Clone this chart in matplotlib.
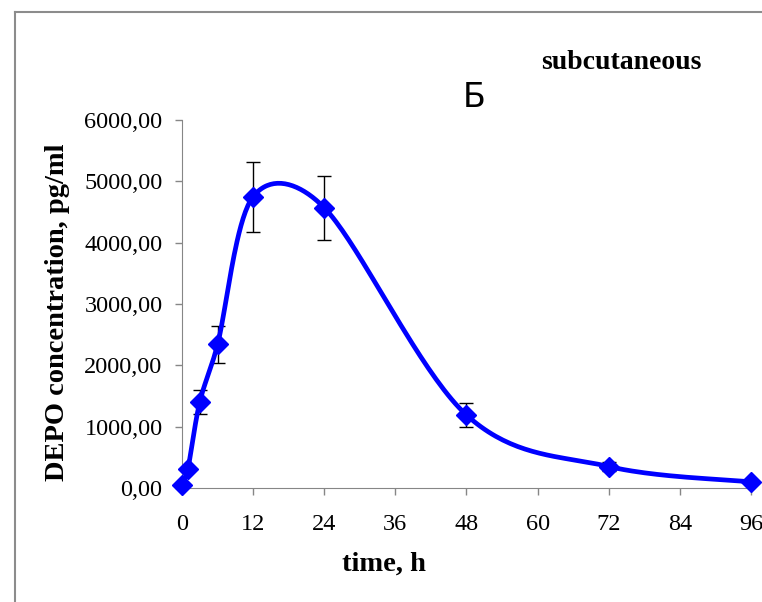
import numpy as np
import matplotlib.pyplot as plt
from matplotlib.lines import Line2D
from matplotlib.ticker import FuncFormatter

# Данные (время, ч / концентрация, пг/мл)
time_h = [0, 1, 3, 6, 12, 24, 48, 72, 96]
conc = [50, 310, 1400, 2340, 4750, 4570, 1190, 350, 100]
err = [0, 40, 200, 300, 570, 520, 195, 80, 0]
x_ticks = [0, 12, 24, 36, 48, 60, 72, 84, 96]
y_ticks = [0, 1000, 2000, 3000, 4000, 5000, 6000]


def smooth(ax, xs, ys, n=40):
    # сглаженная линия в стиле Excel: Безье в экранных координатах,
    # контрольные точки (P2-P0)/6, не длиннее половины отрезка
    p = ax.transData.transform(np.column_stack([xs, ys]))
    p = np.vstack([p[0], p, p[-1]])
    out = []
    for i in range(1, len(p) - 2):
        p0, p1, p2, p3 = p[i - 1], p[i], p[i + 1], p[i + 2]
        seg_len = np.hypot(*(p2 - p1))
        a = (p2 - p0) / 6
        b = (p3 - p1) / 6
        for v in (a, b):
            L = np.hypot(*v)
            if L > seg_len / 2:
                v *= seg_len / 2 / L
        c1, c2 = p1 + a, p2 - b
        t = np.linspace(0, 1, n)[:, None]
        seg = ((1 - t) ** 3 * p1 + 3 * (1 - t) ** 2 * t * c1
               + 3 * (1 - t) * t ** 2 * c2 + t ** 3 * p2)
        out.append(seg)
    out = ax.transData.inverted().transform(np.vstack(out))
    return out[:, 0], out[:, 1]


fig = plt.figure(figsize=(7.62, 6.02), dpi=100)
ax = fig.add_axes([0.2388, 0.1894, 0.7468, 0.6113])
ax.set_xlim(0, 96)
ax.set_ylim(0, 6000)

sx, sy = smooth(ax, time_h, conc)
ax.plot(sx, sy, color='#0000ff', lw=3.4, zorder=3, solid_capstyle='round')
ax.errorbar(time_h, conc, yerr=err, fmt='none', ecolor='black',
            elinewidth=1, capsize=5, capthick=1, zorder=2)
ax.plot(time_h, conc, 'D', color='#0000ff', ms=10, zorder=4, clip_on=False)

ax.set_xticks(x_ticks)
ax.set_yticks(y_ticks)
ax.yaxis.set_major_formatter(FuncFormatter(lambda v, p: f'{v:.2f}'.replace('.', ',')))

for s in ['top', 'right']:
    ax.spines[s].set_visible(False)
for s in ['left', 'bottom']:
    ax.spines[s].set_color('#868686')
ax.tick_params(direction='out', length=5, color='#868686', width=1,
               labelsize=17.5)
ax.tick_params(axis='y', pad=9)
ax.tick_params(axis='x', pad=14)
for lab in ax.get_xticklabels() + ax.get_yticklabels():
    lab.set_family('Liberation Serif')

ax.set_xlabel('time, h', family='Liberation Serif', fontweight='bold',
              fontsize=20.5)
ax.xaxis.set_label_coords(0.355, -0.172)
ax.set_ylabel('DEPO concentration, pg/ml', family='Liberation Serif',
              fontweight='bold', fontsize=20.5)
ax.yaxis.set_label_coords(-0.197, 0.477)

fig.text(0.622, 0.822, 'Б', family='DejaVu Sans', fontsize=24,
         ha='center', va='baseline')
fig.text(0.816, 0.886, 'subcutaneous', family='Liberation Serif',
         fontweight='bold', fontsize=20, ha='center', va='baseline')

# рамка области диаграммы
fig.add_artist(Line2D([0.0197, 0.0197], [0, 0.98], color='#8c8c8c', lw=1.5))
fig.add_artist(Line2D([0.0197, 1], [0.98, 0.98], color='#8c8c8c', lw=1.5))

fig.savefig('out.png', dpi=100)
